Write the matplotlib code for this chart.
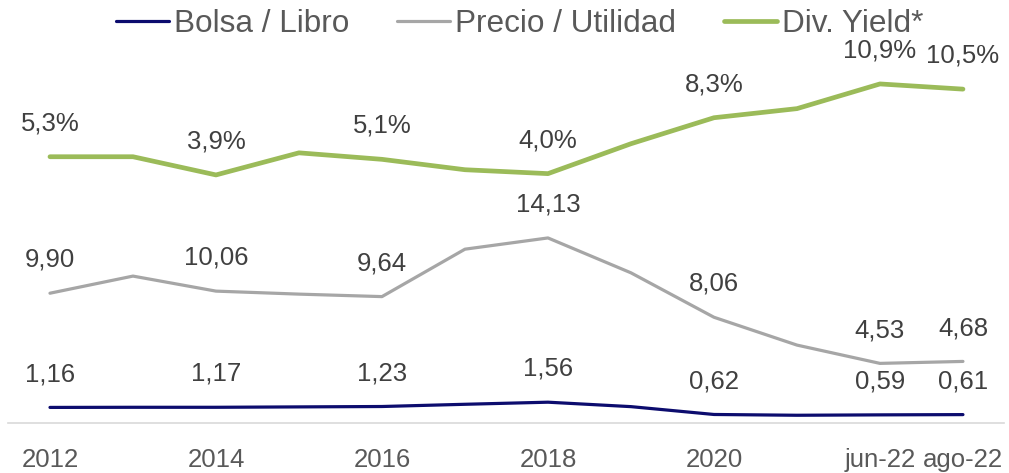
import matplotlib
matplotlib.use('Agg')
import matplotlib.pyplot as plt
import numpy as np

plt.rcParams['font.family'] = ['Liberation Sans', 'DejaVu Sans']

# categorias (eje x) y etiquetas visibles
periodos = ['2012', '2013', '2014', '2015', '2016', '2017', '2018',
            '2019', '2020', '2021', 'jun-22', 'ago-22']
ticks_visibles = ['2012', '2014', '2016', '2018', '2020', 'jun-22', 'ago-22']

# series
bolsa_libro = [1.16, 1.17, 1.17, 1.20, 1.23, 1.40, 1.56, 1.22, 0.62, 0.56, 0.59, 0.61]
precio_utilidad = [9.90, 11.21, 10.06, 9.83, 9.64, 13.27, 14.13, 11.46, 8.06, 5.93, 4.53, 4.68]
div_yield = [5.3, 5.3, 3.9, 5.6, 5.1, 4.3, 4.0, 6.3, 8.3, 9.0, 10.9, 10.5]

c_navy = '#0C0C6E'
c_gray = '#A6A6A6'
c_green = '#9BBB59'
c_text = '#404040'
c_tick = '#595959'

x = np.arange(len(periodos))
idx_lbl = [periodos.index(p) for p in ticks_visibles]

fig = plt.figure(figsize=(10.09, 4.73), dpi=100)
ax = fig.add_axes([0.0084, 0.1066, 0.9871, 0.7984])
ax2 = ax.twinx()

l1, = ax.plot(x, bolsa_libro, color=c_navy, lw=2.3, solid_capstyle='round', label='Bolsa / Libro')
l2, = ax.plot(x, precio_utilidad, color=c_gray, lw=2.3, solid_capstyle='round', label='Precio / Utilidad')
l3, = ax2.plot(x, div_yield, color=c_green, lw=3.4, solid_capstyle='round', label='Div. Yield*')

ax.set_xlim(-0.5, len(periodos) - 0.5)
ax.set_ylim(0, 28.9)
ax2.set_ylim(-15.15, 13.9)

# etiquetas de datos solo en los periodos visibles
for i in idx_lbl:
    ax.annotate(f"{bolsa_libro[i]:.2f}".replace('.', ','), (x[i], bolsa_libro[i]),
                xytext=(0, 24), textcoords='offset points', ha='center', va='center',
                fontsize=18.5, color=c_text)
    ax.annotate(f"{precio_utilidad[i]:.2f}".replace('.', ','), (x[i], precio_utilidad[i]),
                xytext=(0, 24), textcoords='offset points', ha='center', va='center',
                fontsize=18.5, color=c_text)
    ax2.annotate(f"{div_yield[i]:.1f}%".replace('.', ','), (x[i], div_yield[i]),
                 xytext=(0, 24), textcoords='offset points', ha='center', va='center',
                 fontsize=18.5, color=c_text)

ax.set_xticks(idx_lbl)
ax.set_xticklabels(ticks_visibles)
ax.tick_params(axis='x', length=0, pad=18, labelsize=18.5, labelcolor=c_tick)
ax.set_yticks([])
ax2.set_yticks([])

for a in (ax, ax2):
    for s in ['top', 'left', 'right', 'bottom']:
        a.spines[s].set_visible(False)
ax.spines['bottom'].set_visible(True)
ax.spines['bottom'].set_color('#D9D9D9')
ax.spines['bottom'].set_linewidth(1.2)

fig.legend(handles=[l1, l2, l3], loc='center', bbox_to_anchor=(0.515, 0.949), ncol=3,
           frameon=False, fontsize=22.7, labelcolor=c_tick, handlelength=1.7,
           handletextpad=0.16, columnspacing=1.5, borderaxespad=0, borderpad=0)

plt.savefig('out.png', dpi=100)
